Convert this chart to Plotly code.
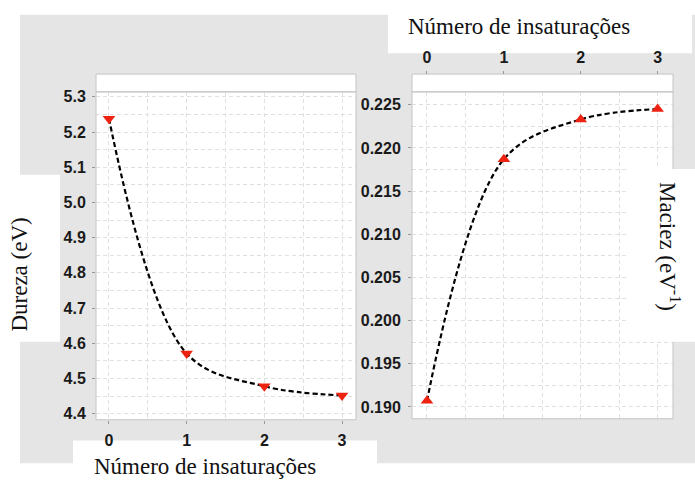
import plotly.graph_objects as go

W, H = 695, 480

# ---- data ----
insaturacoes = [0, 1, 2, 3]
dureza = [5.238, 4.571, 4.478, 4.452]
maciez = [0.1907, 0.2187, 0.2233, 0.2245]
x_tick_labels = ["0", "1", "2", "3"]
x_title = "Número de insaturações"
y1_title = "Dureza (eV)"
y2_title = "Maciez (eV<sup>-1</sup>)"


def px(x):
    return x / W


def py(y):
    return 1 - y / H


GRAY = "#e5e5e5"
BORDER = "#c4c4c4"
GRID = "#e0e0e0"
RED = "#ee2211"
TICKFONT = dict(family="Liberation Sans, Arial", size=16, color="#1a1a1a", weight="bold")
TITLEFONT = dict(family="Liberation Serif, Times New Roman", size=23, color="#111111")

fig = go.Figure()

fig.add_trace(go.Scatter(
    x=insaturacoes, y=dureza, mode="lines+markers", xaxis="x", yaxis="y",
    line=dict(shape="spline", smoothing=1, color="black", width=2.2, dash="5px,3px"),
    marker=dict(symbol="triangle-down", size=11, color=RED),
    showlegend=False, hoverinfo="x+y"))

fig.add_trace(go.Scatter(
    x=insaturacoes, y=maciez, mode="lines+markers", xaxis="x2", yaxis="y2",
    line=dict(shape="spline", smoothing=1, color="black", width=2.2, dash="5px,3px"),
    marker=dict(symbol="triangle-up", size=11, color=RED),
    showlegend=False, hoverinfo="x+y"))

# panel geometry (pixels)
L1 = (96, 356)
L2 = (412, 673)
STRIP_TOP, PLOT_TOP, PLOT_BOT = 72, 90, 422

common_x = dict(
    tickmode="array", tickvals=insaturacoes, ticktext=x_tick_labels,
    showgrid=True, gridcolor=GRID, griddash="4px,3px", gridwidth=1,
    minor=dict(dtick=0.5, tick0=0, showgrid=True, gridcolor=GRID, griddash="4px,3px", ticklen=0),
    ticks="outside", ticklen=3, tickcolor="#999999", tickfont=TICKFONT,
    showline=False, zeroline=False, fixedrange=True,
)

fig.update_layout(
    width=W, height=H, margin=dict(l=0, r=0, t=0, b=0),
    paper_bgcolor="white", plot_bgcolor="white",
    xaxis=dict(domain=[px(L1[0]), px(L1[1])], range=[-0.167, 3.18], anchor="y",
               ticklabelstandoff=3, **common_x),
    yaxis=dict(domain=[py(PLOT_BOT), py(PLOT_TOP)], range=[4.383, 5.314], anchor="x",
               tickmode="linear", tick0=4.4, dtick=0.1, tickformat=".1f",
               showgrid=True, gridcolor=GRID, griddash="4px,3px",
               minor=dict(dtick=0.05, showgrid=True, gridcolor=GRID, griddash="4px,3px", ticklen=0),
               ticks="outside", ticklen=3, tickcolor="#999999", tickfont=TICKFONT,
               ticklabelstandoff=3, showline=False, zeroline=False, fixedrange=True),
    xaxis2=dict(domain=[px(L2[0]), px(L2[1])], range=[-0.195, 3.2], anchor="free",
                position=py(STRIP_TOP), side="top", ticklabelstandoff=2, **common_x),
    yaxis2=dict(domain=[py(421), py(PLOT_TOP)], range=[0.18863, 0.22649], anchor="x2",
                side="left", tickmode="linear", tick0=0.19, dtick=0.005, tickformat=".3f",
                showgrid=True, gridcolor=GRID, griddash="4px,3px",
                minor=dict(dtick=0.0025, showgrid=True, gridcolor=GRID, griddash="4px,3px", ticklen=0),
                ticks="outside", ticklen=3, tickcolor="#999999", tickfont=TICKFONT,
                ticklabelstandoff=4, showline=False, zeroline=False, fixedrange=True),
)

shapes = []


def rect(x0, y0, x1, y1, fill, line=None, layer="below"):
    shapes.append(dict(type="rect", xref="paper", yref="paper",
                       x0=px(x0), x1=px(x1), y0=py(y1), y1=py(y0),
                       fillcolor=fill, layer=layer,
                       line=dict(width=1 if line else 0, color=line or fill)))


# gray backdrop
rect(20, 12, 695, 466, GRAY)
# white label boxes
rect(388, 0, 692, 51, "white")
rect(0, 174, 60, 343, "white")
rect(73, 443, 377, 480, "white")
# panels
rect(L1[0], PLOT_TOP, L1[1], PLOT_BOT, "white")
rect(L2[0], PLOT_TOP, L2[1], 421, "white")
# strips
rect(L1[0], STRIP_TOP, L1[1], PLOT_TOP, "white", BORDER)
rect(L2[0], STRIP_TOP, L2[1], PLOT_TOP, "white", BORDER)
# panel borders
shapes.append(dict(type="rect", xref="paper", yref="paper", x0=px(L1[0]), x1=px(L1[1]),
                   y0=py(PLOT_BOT), y1=py(PLOT_TOP), line=dict(color=BORDER, width=1), layer="above"))
shapes.append(dict(type="rect", xref="paper", yref="paper", x0=px(L2[0]), x1=px(L2[1]),
                   y0=py(421), y1=py(PLOT_TOP), line=dict(color=BORDER, width=1), layer="above"))
# right title box overlapping the panel
rect(627, 168, 695, 343, "white", layer="above")

fig.update_layout(shapes=shapes)

fig.add_annotation(text=x_title, xref="paper", yref="paper", x=px(519), y=py(24),
                   xanchor="center", yanchor="middle", showarrow=False, font=TITLEFONT)
fig.add_annotation(text=x_title, xref="paper", yref="paper", x=px(205), y=py(469),
                   xanchor="center", yanchor="middle", showarrow=False, font=TITLEFONT)
fig.add_annotation(text=y1_title, xref="paper", yref="paper", x=px(20), y=py(275),
                   xanchor="center", yanchor="middle", textangle=-90, showarrow=False, font=TITLEFONT)
fig.add_annotation(text=y2_title, xref="paper", yref="paper", x=px(669), y=py(246),
                   xanchor="center", yanchor="middle", textangle=90, showarrow=False, font=TITLEFONT)

fig.write_html("out.html")
